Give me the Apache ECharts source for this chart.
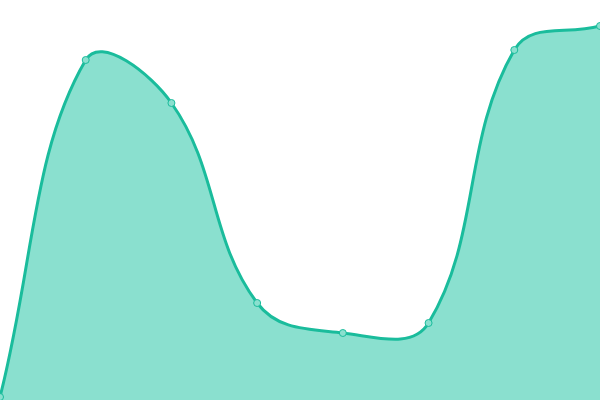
<!DOCTYPE html>
<html lang="en">
<head>
  <meta charset="UTF-8">
  <title>Area</title>
  <script src="https://cdn.jsdelivr.net/npm/echarts@6/dist/echarts.min.js"></script>
  <style>
    html, body { margin: 0; padding: 0; background: #fff; }
    #main { width: 600px; height: 400px; }
  </style>
</head>
<body>
  <div id="main"></div>
  <script type="text/javascript">
    // data (y scale 0..400)
    var categories = ['1', '2', '3', '4', '5', '6', '7', '8'];
    var values = [3, 340, 297, 97, 67, 77, 350, 374];

    var TENSION = 0.4;
    var LINE = '#1abc9c';
    var FILL = '#8ae0cf';

    // spline with tension, tangents along prev->next (allows overshoot,
    // echarts' own smooth clamps control points so it can't do that)
    function splinePath(pts) {
      var cps = [];
      for (var i = 0; i < pts.length; i++) {
        var p0 = pts[i - 1] || pts[i], p1 = pts[i], p2 = pts[i + 1] || pts[i];
        var d01 = Math.hypot(p1[0] - p0[0], p1[1] - p0[1]);
        var d12 = Math.hypot(p2[0] - p1[0], p2[1] - p1[1]);
        var s = d01 + d12 || 1;
        var fa = TENSION * d01 / s, fb = TENSION * d12 / s;
        cps.push({
          prev: [p1[0] - fa * (p2[0] - p0[0]), p1[1] - fa * (p2[1] - p0[1])],
          next: [p1[0] + fb * (p2[0] - p0[0]), p1[1] + fb * (p2[1] - p0[1])]
        });
      }
      var d = 'M' + pts[0][0] + ' ' + pts[0][1];
      for (var j = 1; j < pts.length; j++) {
        var a = cps[j - 1].next, b = cps[j].prev;
        d += ' C' + a[0] + ' ' + a[1] + ' ' + b[0] + ' ' + b[1] + ' ' + pts[j][0] + ' ' + pts[j][1];
      }
      return d;
    }

    function renderCurve(params, api) {
      var pts = values.map(function (v, i) { return api.coord([i, v]); });
      var base = api.coord([0, 0])[1];
      var curve = splinePath(pts);
      var last = pts[pts.length - 1];
      var area = curve + ' L' + last[0] + ' ' + base + ' L' + pts[0][0] + ' ' + base + ' Z';
      return {
        type: 'group',
        children: [
          { type: 'path', shape: { pathData: area }, style: { fill: FILL, stroke: null } },
          { type: 'path', shape: { pathData: curve }, style: { fill: null, stroke: LINE, lineWidth: 3 } }
        ]
      };
    }

    var myChart = echarts.init(document.getElementById('main'));
    var option = {
      animation: false,
      grid: { left: 0, right: 0, top: 0, bottom: 0 },
      xAxis: {
        type: 'category',
        boundaryGap: false,
        show: false,
        data: categories
      },
      yAxis: {
        type: 'value',
        min: 0,
        max: 400,
        show: false
      },
      series: [
        {
          type: 'custom',
          data: [[0, values[0]]],
          renderItem: renderCurve,
          clip: false,
          z: 1,
          silent: true
        },
        {
          type: 'line',
          data: values,
          symbol: 'circle',
          symbolSize: 7,
          z: 3,
          itemStyle: { color: FILL, borderColor: LINE, borderWidth: 1 },
          lineStyle: { width: 0, opacity: 0 }
        }
      ]
    };
    option && myChart.setOption(option);
  </script>
</body>
</html>
